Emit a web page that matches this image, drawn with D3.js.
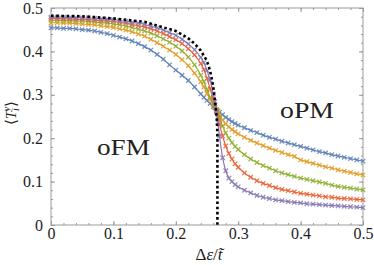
<!DOCTYPE html>
<html>
<head>
<meta charset="utf-8">
<script src="https://cdn.jsdelivr.net/npm/d3@7"></script>
<style>
  body { margin: 0; background: #fff; }
  svg { display: block; }
  svg text { font-family: "Liberation Serif", serif; }
</style>
</head>
<body>
<div id="chart"></div>
<script>
// x grid shared by all five series (denser near the transition)
const xs = [0, 0.01, 0.02, 0.03, 0.04, 0.05, 0.06, 0.07, 0.08, 0.09, 0.10, 0.11, 0.12, 0.13, 0.14,
  0.15, 0.16, 0.17, 0.18, 0.19, 0.20, 0.21, 0.22, 0.23, 0.24,
  0.245, 0.25, 0.255, 0.26, 0.2625, 0.265, 0.2675, 0.27, 0.275, 0.28, 0.285, 0.29, 0.295,
  0.30, 0.31, 0.32, 0.33, 0.34, 0.35, 0.36, 0.37, 0.38, 0.39, 0.40, 0.41, 0.42, 0.43, 0.44,
  0.45, 0.46, 0.47, 0.48, 0.49, 0.50];

const blue = [.454, .454, .453, .453, .452, .450, .449, .447, .444, .441, .437, .433, .429, .424, .418,
  .411, .403, .393, .382, .369, .357, .345, .333, .318, .302,
  .294, .287, .280, .273, .270, .266, .263, .260, .254, .248, .243, .238, .234,
  .230, .224, .218, .213, .207, .202, .198, .193, .189, .185, .181, .177, .173, .169, .166,
  .162, .159, .156, .153, .150, .147];

const orange = [.466, .466, .465, .465, .464, .463, .462, .461, .459, .457, .455, .452, .449, .445, .440,
  .435, .428, .420, .412, .403, .393, .381, .367, .350, .330,
  .318, .303, .290, .278, .272, .265, .258, .252, .242, .233, .226, .220, .215,
  .210, .202, .195, .189, .183, .177, .172, .167, .162, .158, .150, .146, .142, .138, .134,
  .131, .127, .124, .121, .118, .115];

const green = [.472, .472, .471, .471, .470, .470, .469, .468, .466, .465, .463, .461, .458, .455, .451,
  .447, .442, .436, .429, .421, .412, .401, .387, .369, .345,
  .330, .312, .294, .280, .272, .264, .255, .246, .228, .212, .200, .190, .181,
  .174, .162, .152, .144, .137, .131, .125, .120, .116, .112, .108, .105, .102, .099, .096,
  .092, .089, .087, .085, .083, .081];

const red = [.476, .476, .475, .475, .474, .474, .473, .472, .471, .470, .469, .467, .465, .462, .459,
  .456, .452, .447, .441, .434, .427, .418, .406, .392, .372,
  .358, .338, .314, .290, .276, .262, .248, .232, .205, .182, .165, .152, .141,
  .133, .120, .110, .102, .096, .091, .086, .082, .079, .076, .073, .071, .069, .067, .065,
  .064, .062, .061, .060, .059, .058];

const purple = [.479, .479, .479, .478, .478, .477, .477, .476, .475, .474, .473, .471, .469, .467, .465,
  .462, .458, .454, .449, .443, .437, .428, .417, .404, .386,
  .374, .356, .334, .302, .284, .260, .236, .205, .155, .125, .108, .100, .093,
  .088, .080, .074, .068, .064, .061, .058, .056, .054, .052, .051, .049, .048, .047, .046,
  .045, .044, .043, .042, .041, .040];

// dotted mean-field curve
const mfX = [0, 0.05, 0.10, 0.15, 0.20, 0.21, 0.22, 0.23, 0.24, 0.25, 0.255, 0.258, 0.26, 0.262, 0.264, 0.266, 0.2667, 0.2667];
const mfY = [.482, .481, .476, .468, .447, .439, .430, .418, .402, .378, .355, .335, .318, .295, .270, .240, .200, 0];

const seriesNames = ["blue", "orange", "green", "red", "purple"];
const seriesValues = [blue, orange, green, red, purple];
const colors = ["#5E81B5", "#E19C24", "#8FB032", "#EB6235", "#8778B3"];

const xTicks = [0, 0.1, 0.2, 0.3, 0.4, 0.5];
const xTickLabels = ["0", "0.1", "0.2", "0.3", "0.4", "0.5"];
const yTicks = [0, 0.1, 0.2, 0.3, 0.4, 0.5];
const yTickLabels = ["0", "0.1", "0.2", "0.3", "0.4", "0.5"];
const minorTicks = d3.range(0, 0.5001, 0.02);

const width = 374, height = 265;
const margin = { top: 8, right: 11, bottom: 40, left: 51 };

const svg = d3.select("#chart").append("svg")
  .attr("width", width)
  .attr("height", height);

const x = d3.scaleLinear().domain([0, 0.5]).range([margin.left, width - margin.right]);
const y = d3.scaleLinear().domain([0, 0.5]).range([height - margin.bottom, margin.top]);

const axisColor = "#9a9a9a";

// frame with inward ticks on all four sides
function styleAxis(g) {
  g.attr("font-family", null).attr("font-size", null);
  g.select(".domain").remove();
  g.selectAll(".tick line").attr("stroke", axisColor);
  g.selectAll(".tick text").attr("fill", "#222").style("font-size", "16px");
}

const fmtX = d => xTickLabels[xTicks.findIndex(t => Math.abs(t - d) < 1e-9)];
const fmtY = d => yTickLabels[yTicks.findIndex(t => Math.abs(t - d) < 1e-9)];

// minor ticks
svg.append("g").attr("transform", `translate(0,${y(0)})`)
  .call(d3.axisBottom(x).tickValues(minorTicks).tickSize(-2).tickFormat("")).call(styleAxis);
svg.append("g").attr("transform", `translate(0,${y(0.5)})`)
  .call(d3.axisTop(x).tickValues(minorTicks).tickSize(-2).tickFormat("")).call(styleAxis);
svg.append("g").attr("transform", `translate(${x(0)},0)`)
  .call(d3.axisLeft(y).tickValues(minorTicks).tickSize(-2).tickFormat("")).call(styleAxis);
svg.append("g").attr("transform", `translate(${x(0.5)},0)`)
  .call(d3.axisRight(y).tickValues(minorTicks).tickSize(-2).tickFormat("")).call(styleAxis);

// major ticks + labels
svg.append("g").attr("transform", `translate(0,${y(0)})`)
  .call(d3.axisBottom(x).tickValues(xTicks).tickSize(-4).tickPadding(3).tickFormat(fmtX)).call(styleAxis);
svg.append("g").attr("transform", `translate(0,${y(0.5)})`)
  .call(d3.axisTop(x).tickValues(xTicks).tickSize(-4).tickFormat("")).call(styleAxis);
svg.append("g").attr("transform", `translate(${x(0)},0)`)
  .call(d3.axisLeft(y).tickValues(yTicks).tickSize(-4).tickPadding(8).tickFormat(fmtY)).call(styleAxis);
svg.append("g").attr("transform", `translate(${x(0.5)},0)`)
  .call(d3.axisRight(y).tickValues(yTicks).tickSize(-4).tickFormat("")).call(styleAxis);

svg.append("rect")
  .attr("x", x(0)).attr("y", y(0.5))
  .attr("width", x(0.5) - x(0)).attr("height", y(0) - y(0.5))
  .attr("fill", "none").attr("stroke", axisColor).attr("stroke-width", 1);

// series
const line = d3.line().x(d => x(d[0])).y(d => y(d[1])).curve(d3.curveMonotoneX);

seriesValues.forEach((vals, i) => {
  const pts = xs.map((xv, j) => [xv, vals[j]]);
  const g = svg.append("g").attr("class", "series-" + seriesNames[i]);
  g.append("path")
    .datum(pts)
    .attr("fill", "none")
    .attr("stroke", colors[i])
    .attr("stroke-width", 1.2)
    .attr("d", line);
  g.selectAll("path.mark")
    .data(pts)
    .join("path")
    .attr("class", "mark")
    .attr("transform", d => `translate(${x(d[0])},${y(d[1])})`)
    .attr("d", "M-2.2,-2.2L2.2,2.2M-2.2,2.2L2.2,-2.2")
    .attr("stroke", colors[i])
    .attr("stroke-opacity", 0.85)
    .attr("stroke-width", 1.3);
});

// mean-field dotted curve
svg.append("path")
  .datum(mfX.map((xv, j) => [xv, mfY[j]]))
  .attr("fill", "none")
  .attr("stroke", "#000")
  .attr("stroke-width", 2.6)
  .attr("stroke-dasharray", "2.6,2.6")
  .attr("d", d3.line().x(d => x(d[0])).y(d => y(d[1])));

// phase labels
svg.append("text").attr("x", 97).attr("y", 155)
  .style("font-size", "23px").attr("fill", "#222")
  .attr("textLength", 53).attr("lengthAdjust", "spacingAndGlyphs").text("oFM");
svg.append("text").attr("x", 280).attr("y", 118)
  .style("font-size", "23px").attr("fill", "#222")
  .attr("textLength", 54).attr("lengthAdjust", "spacingAndGlyphs").text("oPM");

// x title
const xt = svg.append("text").attr("x", 209).attr("y", 260)
  .attr("text-anchor", "middle").style("font-size", "17px").attr("fill", "#222");
xt.append("tspan").text("Δ");
xt.append("tspan").style("font-style", "italic").text("ε");
xt.append("tspan").text("/");
xt.append("tspan").style("font-style", "italic").text("t\u0303");

// y title
const yt = svg.append("text")
  .attr("transform", "translate(16,113) rotate(-90)")
  .attr("text-anchor", "middle").style("font-size", "15px").attr("fill", "#222");
yt.append("tspan").text("⟨");
yt.append("tspan").style("font-style", "italic").text("T");
yt.append("tspan").attr("dy", 3).style("font-size", "10px").style("font-style", "italic").text("i");
yt.append("tspan").attr("dx", -3).attr("dy", -9).style("font-size", "10px").style("font-style", "italic").text("y");
yt.append("tspan").attr("dy", 6).text("⟩");
</script>
</body>
</html>
